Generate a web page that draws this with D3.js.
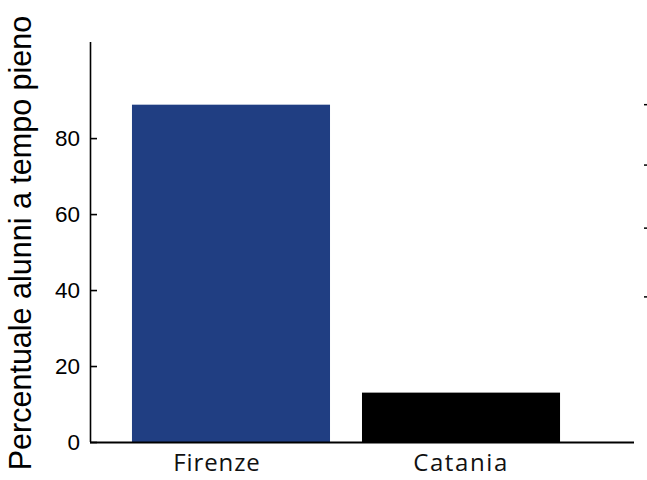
<!DOCTYPE html>
<html><head><meta charset="utf-8">
<script src="https://cdn.jsdelivr.net/npm/d3@7"></script>
<style>body{margin:0;background:#fff}</style>
</head><body>
<svg id="chart" width="647" height="480"></svg>
<script>
const categories = ["Firenze", "Catania"];
const values = [88.8, 13.0];
const barColors = ["#203e82", "#000000"];
const yTicks = [0, 20, 40, 60, 80];
const yTitle = "Percentuale alunni a tempo pieno";
const strayTicks = [88.8, 72.9, 56.3, 38.2]; // short marks on right edge (value units)

const svg = d3.select("#chart");
const mLeft = 90, mRight = 634, mTop = 42, mBottom = 442;

const y = d3.scaleLinear().domain([0, 105.3]).range([mBottom, mTop]);
const x = d3.scaleBand().domain(categories).range([mLeft, mRight])
  .paddingInner(0.139).paddingOuter(0.252).align(0.362);

svg.selectAll("rect.bar").data(categories).join("rect")
  .attr("class", "bar")
  .attr("x", d => x(d))
  .attr("width", x.bandwidth())
  .attr("y", (d, i) => y(values[i]))
  .attr("height", (d, i) => y(0) - y(values[i]))
  .attr("fill", (d, i) => barColors[i]);

// y axis
const yAxis = svg.append("g").attr("transform", `translate(${mLeft},0)`)
  .call(d3.axisLeft(y).tickValues(yTicks).tickSize(-7).tickSizeOuter(0).tickPadding(10));
yAxis.select(".domain").attr("stroke", "#000").attr("stroke-width", 1.6)
  .attr("d", `M0.5,${mTop}V${mBottom}`);
yAxis.selectAll(".tick line").attr("stroke", "#000").attr("stroke-width", 1.6);
yAxis.selectAll(".tick text").attr("font-family", "Liberation Sans, Arial, sans-serif")
  .attr("font-size", 22.5).attr("fill", "#000");

// x axis
const xAxis = svg.append("g").attr("transform", `translate(0,${mBottom})`)
  .call(d3.axisBottom(x).tickSize(0).tickPadding(12));
xAxis.select(".domain").attr("stroke", "#000").attr("stroke-width", 1.8)
  .attr("d", `M${mLeft},0.5H${mRight}`);
xAxis.selectAll(".tick text").attr("font-family", "Open Sans, sans-serif")
  .attr("font-size", 24).attr("fill", "#111")
  .attr("letter-spacing", (d, i) => i === 0 ? 0.9 : 1.6)
  .attr("dx", (d, i) => i === 0 ? -14 : 0);

// stray right ticks
svg.selectAll("line.stray").data(strayTicks).join("line")
  .attr("class", "stray")
  .attr("x1", 644).attr("x2", 647)
  .attr("y1", d => y(d)).attr("y2", d => y(d))
  .attr("stroke", "#000").attr("stroke-width", 1.5);

// y title
svg.append("text")
  .attr("transform", `translate(31,${(mTop + mBottom) / 2 + 1}) rotate(-90)`)
  .attr("text-anchor", "middle")
  .attr("font-family", "Liberation Sans, Arial, sans-serif")
  .attr("font-size", 30.5).attr("fill", "#000")
  .text(yTitle);
</script>
</body></html>
